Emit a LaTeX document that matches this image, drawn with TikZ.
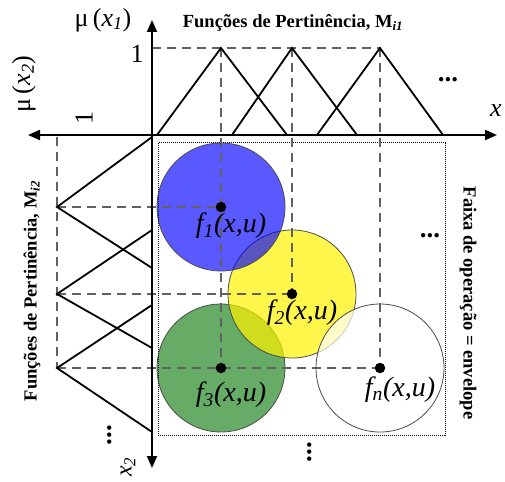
\documentclass[tikz,border=0pt]{standalone}
\usepackage{fontspec}
\setmainfont{Liberation Serif}
\usetikzlibrary{arrows.meta}
\begin{document}
\begin{tikzpicture}[x=1pt,y=-1pt,
  axis/.style={line width=2pt, {Triangle[length=12pt,width=10pt]}-{Triangle[length=12pt,width=10pt]}},
  memb/.style={line width=1.8pt},
  guide/.style={dash pattern=on 9pt off 6pt, line width=1.4pt, draw=black!62},
  blob/.style={circle, minimum size=128pt, inner sep=0pt, draw=black!70, line width=0.8pt},
  dotc/.style={circle, fill=black, minimum size=10.5pt, inner sep=0pt},
  big/.style={font=\fontsize{26}{28}\selectfont, inner sep=0pt},
  flab/.style={font=\fontsize{28}{30}\selectfont\itshape, inner sep=0pt},
  ttl/.style={font=\fontsize{18.5}{20}\selectfont\bfseries, inner sep=0pt},
  ell/.style={font=\fontsize{27}{28}\selectfont\bfseries, inner sep=0pt}]
\useasboundingbox (0,0) rectangle (505,481);
% key points
\coordinate (O) at (152,135);
\coordinate (xl) at (28,135); \coordinate (xr) at (497,135);
\coordinate (yt) at (152,20); \coordinate (yb) at (152,468);
\coordinate (a1) at (157,135); \coordinate (p1) at (221,48); \coordinate (b1) at (287,135);
\coordinate (a2) at (232,135); \coordinate (p2) at (292,48); \coordinate (b2) at (357,135);
\coordinate (a3) at (317,135); \coordinate (p3) at (380,48); \coordinate (b3) at (443,135);
\coordinate (one) at (152,48);
\coordinate (l1a) at (152,137); \coordinate (q1) at (57,207); \coordinate (l1b) at (152,268);
\coordinate (l2a) at (152,230); \coordinate (q2) at (57,294); \coordinate (l2b) at (152,348);
\coordinate (l3a) at (152,305); \coordinate (q3) at (57,368); \coordinate (l3b) at (152,432);
\coordinate (vtop) at (57,137);
% circles
\node[blob, fill=green!45!black, fill opacity=0.6] (c3) at (221,368) {};
\node[blob, fill=yellow, fill opacity=0.7] (c2) at (292,294) {};
\node[blob, fill=white, fill opacity=0.7] (cn) at (380,368) {};
\node[blob, fill=blue, fill opacity=0.65] (c1) at (221,207) {};
% envelope
\draw[line width=1pt, dash pattern=on 1pt off 1pt] (158,143) rectangle (445,435);
% dot centres
\coordinate (d1) at (221,207);
\coordinate (d2) at (292,294);
\coordinate (d3) at (221,368);
\coordinate (dn) at (380,368);
% guides
\draw[guide] (one) -- (p3);
\draw[guide] (p1) -- (d3);
\draw[guide] (p2) -- (d2);
\draw[guide] (p3) -- (dn);
\draw[guide] (vtop) -- (q3);
\draw[guide] (q1) -- (d1);
\draw[guide] (q2) -- (d2);
\draw[guide] (q3) -- (dn);
\node[dotc] (k1) at (d1) {};
\node[dotc] (k2) at (d2) {};
\node[dotc] (k3) at (d3) {};
\node[dotc] (kn) at (dn) {};
% membership functions
\draw[memb] (a1) -- (p1) -- (b1);
\draw[memb] (a2) -- (p2) -- (b2);
\draw[memb] (a3) -- (p3) -- (b3);
\draw[memb] (l1a) -- (q1) -- (l1b);
\draw[memb] (l2a) -- (q2) -- (l2b);
\draw[memb] (l3a) -- (q3) -- (l3b);
% axes
\draw[axis] (xl) -- (xr);
\draw[axis] (yt) -- (yb);
% labels
\node[big] (mu1) at (103,20) {μ\,({\itshape x\textsubscript{1}})};
\node[big, rotate=90] (mu2) at (24,84) {μ\,({\itshape x\textsubscript{2}})};
\node[big] (u1) at (137,54) {1};
\node[big, rotate=90] (u2) at (84,118) {1};
\node[big, font=\fontsize{26}{28}\selectfont\itshape] (xlab) at (496,111) {x};
\node[big, font=\fontsize{24}{26}\selectfont\itshape, rotate=90] (x2lab) at (128,467) {x\textsubscript{2}};
\node[ttl] (t1) at (293,23) {Funções de Pertinência, M\textsubscript{\itshape i1}};
\node[ttl, rotate=90] (t2) at (32,291) {Funções de Pertinência, M\textsubscript{\itshape i2}};
\node[ttl, rotate=-90] (t3) at (468,303) {Faixa de operação = envelope};
\node[flab] (f1) at (231,226) {f\textsubscript{1}(x,u)};
\node[flab] (f2) at (302,313) {f\textsubscript{2}(x,u)};
\node[flab] (f3) at (231,395) {f\textsubscript{3}(x,u)};
\node[flab] (fn) at (400,390) {f\textsubscript{n}(x,u)};
\node[ell] (e1) at (448,80) {...};
\node[ell] (e2) at (430,236) {...};
\node[ell, rotate=90] (e3) at (310,452) {...};
\node[ell, rotate=90] (e4) at (110,435) {...};
\end{tikzpicture}
\end{document}
